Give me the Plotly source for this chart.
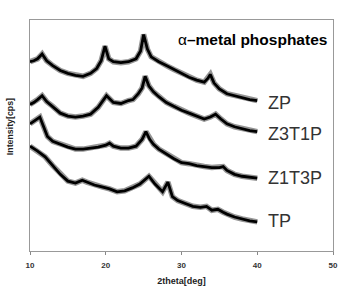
import plotly.graph_objects as go

# 2theta positions (deg) and intensities (arbitrary, offset stacked)
zp_x = [10, 10.5, 11, 11.6, 12.2, 13, 14, 15, 16, 17, 18, 18.8, 19.4, 19.9, 20.4, 21, 22, 23, 24, 24.6, 25.0,
        25.5, 26, 27, 28, 29, 30, 31, 32, 33, 33.5, 33.8, 34.3, 35, 36, 37, 38, 39, 40]
zp_y = [195, 196, 198, 203, 196, 191, 186, 183, 181, 180, 183, 188, 196, 211, 198, 195, 194, 195, 198, 206, 223,
        208, 200, 195, 191, 187, 183, 179, 176, 174, 178, 182, 173, 167, 162, 160, 158, 156, 155]

z3t1p_x = [10, 10.5, 11, 11.6, 12.2, 13, 14, 15, 16, 17, 18, 19, 19.7, 20.1, 21, 22, 23, 23.6, 24.3, 24.8, 25.2,
           25.7, 26.3, 27, 28, 29, 30, 31, 32, 33, 33.8, 34.5, 35.2, 36, 37, 38, 39, 40]
z3t1p_y = [151, 153, 156, 160, 154, 149, 142, 139, 138, 139, 141, 148, 156, 160, 153, 152, 155, 156, 162, 168, 180,
           170, 164, 159, 153, 149, 145, 142, 139, 136, 138, 141, 136, 131, 128, 126, 124, 123]

z1t3p_x = [10, 10.6, 11.3, 11.8, 12.3, 13, 14, 15, 16, 17, 18, 19, 20, 20.5, 21, 22, 23, 24, 24.8, 25.3,
           25.8, 26.3, 27, 28, 29, 30, 31, 32, 33, 34, 35, 35.5, 36, 37, 38, 39, 40]
z1t3p_y = [131, 134, 138, 128, 118, 113, 110, 107, 105, 105, 106, 107, 109, 111, 108, 106, 106, 108, 115, 123,
           115, 110, 105, 100, 95, 91, 90, 88, 87, 86, 86, 87, 83, 79, 77, 76, 75]

tp_x = [10, 11, 12, 13, 14, 15, 16, 16.9, 17.5, 18.5, 19.5, 20.5, 21.5, 22.5, 23.5, 24.5, 25.7, 26.5, 27.5, 28.2,
        28.8, 29.5, 30.5, 31.5, 32.5, 33.3, 34, 34.8, 35.5, 36, 37, 38, 39, 40]
tp_y = [108, 103, 97, 88, 79, 72, 70, 73, 71, 68, 66, 64, 61, 62, 65, 69, 77, 69, 61, 71,
        56, 52, 49, 46, 45, 46, 42, 43, 40, 38, 35, 33, 31, 30]

series_names = ["ZP", "Z3T1P", "Z1T3P", "TP"]
label_y = [153, 121, 75, 31]
x_ticks = [10, 20, 30, 40, 50]

FONT = "Liberation Sans, Arial, sans-serif"

fig = go.Figure()
for xs, ys in [(zp_x, zp_y), (z3t1p_x, z3t1p_y), (z1t3p_x, z1t3p_y), (tp_x, tp_y)]:
    # soft halo imitating the noisy width of the measured trace
    fig.add_trace(go.Scatter(x=xs, y=ys, mode="lines",
                             line=dict(color="rgba(20,20,20,0.45)", width=5.5), showlegend=False,
                             hoverinfo="skip"))
    fig.add_trace(go.Scatter(x=xs, y=ys, mode="lines",
                             line=dict(color="black", width=2.8), showlegend=False))

for name, ly in zip(series_names, label_y):
    fig.add_annotation(x=41.2, y=ly, text=name, showarrow=False, xanchor="left", yanchor="middle",
                       font=dict(family=FONT, size=18, color="#333333"))

fig.add_annotation(xref="paper", x=0.986, y=218, text="α<b>–metal phosphates</b>", showarrow=False,
                   xanchor="right", yanchor="middle",
                   font=dict(family=FONT, size=15.5, color="black"))

fig.add_annotation(xref="paper", x=-0.068, y=128, text="<b>Intensity[cps]</b>", showarrow=False,
                   textangle=-90, xanchor="center", yanchor="middle",
                   font=dict(family=FONT, size=8.8, color="#222222"))

fig.update_layout(
    width=347, height=294,
    margin=dict(l=30, r=9, t=20, b=36),
    paper_bgcolor="white", plot_bgcolor="white",
    xaxis=dict(range=[10, 50], tickvals=x_ticks, ticktext=[f"<b>{t}</b>" for t in x_ticks],
               ticks="outside", ticklen=3, tickcolor="#888888", ticklabelstandoff=3,
               showgrid=False, zeroline=False, showline=True, linecolor="#999999", mirror=True,
               tickfont=dict(family=FONT, size=8, color="#333333"),
               title=dict(text="<b>2theta[deg]</b>", standoff=9,
                          font=dict(family=FONT, size=9, color="#222222"))),
    yaxis=dict(range=[0, 238], showticklabels=False, ticks="", showgrid=False, zeroline=False,
               showline=True, linecolor="#999999", mirror=True),
)

fig.write_html("out.html")
